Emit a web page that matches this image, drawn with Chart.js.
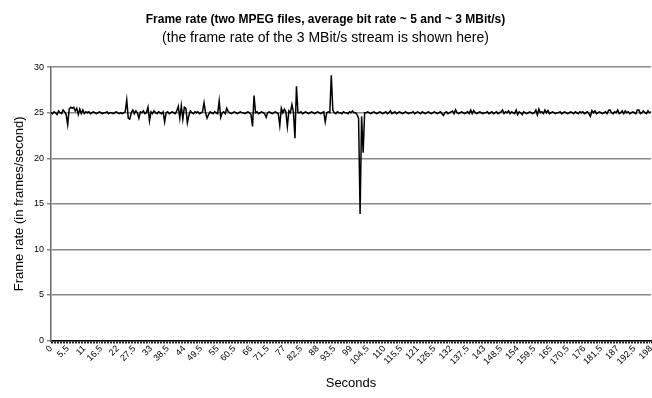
<!DOCTYPE html>
<html>
<head>
<meta charset="utf-8">
<script src="https://cdn.jsdelivr.net/npm/chart.js@4/dist/chart.umd.min.js"></script>
<style>
html,body{margin:0;padding:0;background:#fff;}
#wrap{width:652px;height:398px;}
</style>
</head>
<body>
<div id="wrap"><canvas id="c" width="652" height="398"></canvas></div>
<script>
const titleText = 'Frame rate (two MPEG files, average bit rate ~ 5 and ~ 3 MBit/s)';
const subtitleText = '(the frame rate of the 3 MBit/s stream is shown here)';
const yTitle = 'Frame rate (in frames/second)';
const xTitle = 'Seconds';

// x tick labels shown every 11 samples (every 5.5 s)
const tickLabels = ['0','5,5','11','16,5','22','27,5','33','38,5','44','49,5','55','60,5','66','71,5','77','82,5','88','93,5','99','104,5','110','115,5','121','126,5','132','137,5','143','148,5','154','159,5','165','170,5','176','181,5','187','192,5','198'];

// frame rate samples, one every 0.5 s from 0 to 198 s
const frameRate = [
25.0,24.9,25.1,25.0,24.8,25.2,25.0,24.9,25.3,25.1,
24.8,23.7,25.4,25.6,25.5,25.6,25.2,25.5,24.8,25.4,
24.9,25.3,24.9,25.1,25.0,25.1,24.9,25.0,25.1,25.0,
24.9,25.0,25.1,25.0,24.9,25.0,25.0,25.1,24.9,25.0,
25.0,24.9,25.0,25.1,25.0,24.9,25.0,24.9,25.0,25.1,
26.4,24.4,24.3,25.0,25.3,24.9,25.2,25.0,24.4,25.1,
25.0,25.2,24.9,25.0,25.6,24.1,25.1,24.9,25.2,25.0,
24.9,25.1,25.0,24.9,25.1,24.0,25.0,25.1,24.9,25.0,
25.1,25.0,24.9,25.2,25.7,24.4,25.8,24.3,25.6,25.5,
23.9,24.7,25.2,25.0,24.9,25.1,25.0,25.1,24.9,25.0,
25.1,26.1,25.0,24.4,24.8,25.1,25.0,24.9,25.1,25.0,
24.9,26.3,24.5,25.0,25.1,24.9,25.5,25.1,25.0,24.9,
25.0,25.1,25.0,24.9,25.0,25.1,25.0,25.0,24.9,25.0,
25.1,25.0,24.8,23.5,26.9,25.0,25.1,24.9,25.0,25.1,
25.0,24.9,24.5,25.0,25.1,25.0,24.9,25.0,25.1,25.0,
24.9,23.6,25.5,25.0,25.4,25.1,23.5,25.2,25.0,25.9,
25.1,22.2,27.9,25.0,25.0,25.1,24.9,25.0,25.1,25.0,
24.9,25.0,25.1,25.0,24.9,25.0,25.1,25.0,24.9,25.0,
25.1,24.0,25.0,25.1,25.0,29.1,25.3,25.0,24.9,25.1,
25.0,25.0,24.9,25.1,25.0,25.0,24.9,25.1,25.0,25.2,
25.0,25.0,24.8,24.4,13.9,24.6,20.6,25.0,25.0,25.1,
25.0,24.9,25.0,25.1,25.0,24.9,25.0,25.1,25.0,24.9,
25.0,25.1,24.9,25.0,25.2,24.9,25.0,25.1,24.9,25.0,
25.1,25.0,24.9,25.0,25.1,25.0,24.9,25.0,25.0,25.1,
24.9,25.0,25.1,25.0,24.9,25.1,25.0,24.9,25.0,25.1,
25.0,24.9,25.0,25.1,25.0,24.9,25.0,25.1,24.9,24.7,
25.0,25.1,24.9,25.0,25.1,25.2,24.9,25.35,25.0,24.9,
25.0,25.1,25.0,24.9,25.0,25.1,24.9,25.3,24.9,25.25,
25.0,24.9,25.0,25.1,25.0,24.9,25.0,25.0,25.1,24.9,
25.0,25.1,24.9,25.0,25.1,24.9,25.0,25.1,25.3,24.9,
25.1,25.0,25.2,24.9,25.1,25.0,24.9,25.3,24.8,25.1,
25.0,24.8,25.1,25.0,24.9,25.0,25.1,25.0,24.9,25.0,
25.3,24.75,25.4,25.0,25.1,24.9,25.3,25.0,25.25,24.9,
25.0,25.1,25.0,24.9,25.0,25.0,25.1,24.9,25.0,25.1,
25.0,24.9,25.0,25.1,25.0,24.9,25.1,25.0,24.9,25.1,
25.0,25.1,24.9,25.0,25.1,24.9,24.6,25.25,25.0,25.2,
24.9,25.0,25.1,25.0,24.9,25.0,25.1,24.9,25.25,25.3,
25.0,24.9,25.1,25.0,25.3,24.9,25.0,25.2,24.9,25.2,
25.0,25.1,24.9,25.0,25.1,25.0,24.9,25.3,25.3,24.9,
25.0,25.2,25.0,24.9,25.2,25.0,25.1
];

const labelEvery = 11;
const categories = frameRate.map((v, i) => (i % labelEvery === 0) ? tickLabels[i / labelEvery] : '');

const FONT = "'Liberation Sans', Arial, sans-serif";

new Chart(document.getElementById('c'), {
  type: 'line',
  data: {
    labels: categories,
    datasets: [{
      data: frameRate,
      borderColor: '#000',
      borderWidth: 1.5,
      pointRadius: 0,
      tension: 0,
      fill: false
    }]
  },
  options: {
    responsive: false,
    animation: false,
    events: [],
    layout: { padding: { left: 0, right: 1, top: 0, bottom: 0 } },
    plugins: {
      legend: { display: false },
      tooltip: { enabled: false },
      title: {
        display: true,
        text: titleText,
        color: '#000',
        font: { family: FONT, size: 12, weight: 'bold' },
        padding: { top: 12, bottom: 3 }
      },
      subtitle: {
        display: true,
        text: subtitleText,
        color: '#000',
        font: { family: FONT, size: 14 },
        padding: { top: 0, bottom: 21 }
      }
    },
    scales: {
      x: {
        type: 'category',
        offset: false,
        grid: { display: true, drawOnChartArea: false, drawTicks: true, tickLength: 3, color: '#222', lineWidth: 1 },
        border: { display: true, color: '#000', width: 1.5 },
        ticks: {
          autoSkip: false,
          maxRotation: 45,
          minRotation: 45,
          padding: 0,
          color: '#000',
          font: { family: FONT, size: 9 }
        },
        title: { display: true, text: xTitle, color: '#000', font: { family: FONT, size: 13 }, padding: { top: 2, bottom: 7 } },
        afterFit: (s) => { s.paddingLeft = 0; s.paddingRight = 0; s.height = 57.5; }
      },
      y: {
        min: 0,
        max: 30,
        grid: { color: '#8a8a8a', lineWidth: 1.5, tickLength: 4, drawTicks: true },
        border: { display: true, color: '#6a6a6a', width: 1.5 },
        ticks: { stepSize: 5, color: '#000', padding: 3, font: { family: FONT, size: 9 } },
        title: { display: true, text: yTitle, color: '#000', font: { family: FONT, size: 13 }, padding: { top: 12, bottom: 0 } },
        afterFit: (s) => { s.width = 51; }
      }
    }
  }
});
</script>
</body>
</html>
